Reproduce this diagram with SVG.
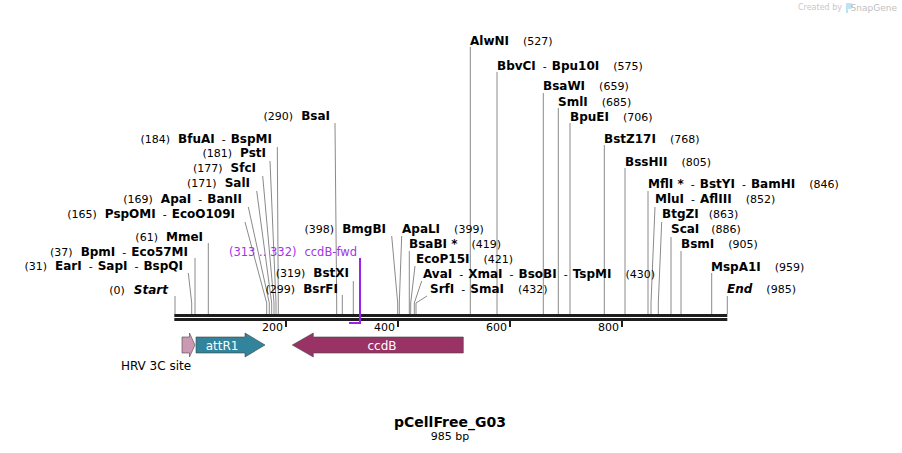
<svg xmlns="http://www.w3.org/2000/svg" width="902" height="453" viewBox="0 0 902 453">
<style>
text{font-family:"DejaVu Sans","Verdana",sans-serif;fill:#000}
.n{font-weight:bold;font-size:12px}
.i{font-style:italic}
.p{font-size:11px}
.h{font-size:11px}
.pr{fill:#a035e6}
.cut{fill:none;stroke:#8a8a8a;stroke-width:1}
.bb{fill:#1e1e1e}
.tk{fill:#1e1e1e}
.ft{stroke:#444;stroke-width:0.6}
.fl{fill:#fff;font-size:12px}
</style>
<rect width="902" height="453" fill="#fff"/>
<g id="watermark">
<text x="842" y="10" text-anchor="end" style="font-size:8px;fill:#c8c8c8">Created by</text>
<path d="M846,3 h4 a3,3 0 0 1 0,6 h-2 v4 h-2 z" fill="#bfe3f3"/>
<text x="897" y="10.5" text-anchor="end" style="font-size:9px;fill:#c0c0c0">SnapGene</text>
</g>
<g id="connectors">
<polyline class="cut" points="175,296 175,314"/>
<polyline class="cut" points="188.3,273 191.7,303 191.7,314"/>
<polyline class="cut" points="195,258 195,314"/>
<polyline class="cut" points="208.3,243 208.3,314"/>
<polyline class="cut" points="245,222 266.7,303 266.7,314"/>
<polyline class="cut" points="248.3,207 269.3,303 269.3,314"/>
<polyline class="cut" points="256.7,191 271.7,303 271.7,314"/>
<polyline class="cut" points="262.7,176 274,303 274,314"/>
<polyline class="cut" points="270,161 276,303 276,314"/>
<polyline class="cut" points="277.3,147 278.3,303 278.3,314"/>
<polyline class="cut" points="335,123 336.7,303 336.7,314"/>
<polyline class="cut" points="342.3,295 342.3,314"/>
<polyline class="cut" points="353.3,281 353.3,314"/>
<polyline class="cut" points="391.7,236 397.7,303 397.7,314"/>
<polyline class="cut" points="401.7,236 399.3,303 399.3,314"/>
<polyline class="cut" points="409.3,251 409.3,314"/>
<polyline class="cut" points="415,266 410.7,303 410.7,314"/>
<polyline class="cut" points="421.7,281 414.3,303 414.3,314"/>
<polyline class="cut" points="427,296 416,303 416,314"/>
<polyline class="cut" points="470.3,47 470.3,314"/>
<polyline class="cut" points="497,72 497,314"/>
<polyline class="cut" points="543.3,93 543.3,314"/>
<polyline class="cut" points="558.3,108 558.3,314"/>
<polyline class="cut" points="570,123 570,314"/>
<polyline class="cut" points="604.3,145 604.3,314"/>
<polyline class="cut" points="625,168 625,314"/>
<polyline class="cut" points="648,191 648,314"/>
<polyline class="cut" points="655,207 651,303 651,314"/>
<polyline class="cut" points="661.7,222 658.3,303 658.3,314"/>
<polyline class="cut" points="671,237 671,314"/>
<polyline class="cut" points="681,251 681,314"/>
<polyline class="cut" points="711.7,273 711.7,314"/>
<polyline class="cut" points="727.3,296 727.3,314"/>
</g>
<g id="backbone">
<rect class="bb" x="174.3" y="314" width="553" height="3"/>
<rect class="bb" x="174.3" y="318" width="553" height="3"/>
<rect class="tk" x="285" y="321" width="2" height="6"/>
<rect class="tk" x="397" y="321" width="2" height="6"/>
<rect class="tk" x="509" y="321" width="2" height="6"/>
<rect class="tk" x="621" y="321" width="2" height="6"/>
<text class="h" x="283" y="331" text-anchor="end">200</text>
<text class="h" x="395" y="331" text-anchor="end">400</text>
<text class="h" x="507" y="331" text-anchor="end">600</text>
<text class="h" x="619" y="331" text-anchor="end">800</text>
</g>
<g id="start"><text x="168" y="294" text-anchor="end"><tspan class="p">(0)</tspan><tspan class="n i" dx="9">Start</tspan></text></g>
<g id="EarI"><text x="183" y="270" text-anchor="end"><tspan class="p">(31)</tspan><tspan class="n" dx="8">EarI</tspan><tspan class="p" dx="7">-</tspan><tspan class="n" dx="5">SapI</tspan><tspan class="p" dx="7">-</tspan><tspan class="n" dx="5">BspQI</tspan></text></g>
<g id="BpmI"><text x="188" y="256" text-anchor="end"><tspan class="p">(37)</tspan><tspan class="n" dx="8">BpmI</tspan><tspan class="p" dx="7">-</tspan><tspan class="n" dx="5">Eco57MI</tspan></text></g>
<g id="MmeI"><text x="203" y="241" text-anchor="end"><tspan class="p">(61)</tspan><tspan class="n" dx="8">MmeI</tspan></text></g>
<g id="PspOMI"><text x="235" y="218" text-anchor="end"><tspan class="p">(165)</tspan><tspan class="n" dx="8">PspOMI</tspan><tspan class="p" dx="7">-</tspan><tspan class="n" dx="5">EcoO109I</tspan></text></g>
<g id="ApaI"><text x="242" y="203" text-anchor="end"><tspan class="p">(169)</tspan><tspan class="n" dx="8">ApaI</tspan><tspan class="p" dx="7">-</tspan><tspan class="n" dx="5">BanII</tspan></text></g>
<g id="SalI"><text x="250" y="187" text-anchor="end"><tspan class="p">(171)</tspan><tspan class="n" dx="8">SalI</tspan></text></g>
<g id="SfcI"><text x="256" y="172" text-anchor="end"><tspan class="p">(177)</tspan><tspan class="n" dx="8">SfcI</tspan></text></g>
<g id="PstI"><text x="266" y="157" text-anchor="end"><tspan class="p">(181)</tspan><tspan class="n" dx="8">PstI</tspan></text></g>
<g id="BfuAI"><text x="272" y="143" text-anchor="end"><tspan class="p">(184)</tspan><tspan class="n" dx="8">BfuAI</tspan><tspan class="p" dx="7">-</tspan><tspan class="n" dx="5">BspMI</tspan></text></g>
<g id="BsaI"><text x="330" y="120" text-anchor="end"><tspan class="p">(290)</tspan><tspan class="n" dx="8">BsaI</tspan></text></g>
<g id="ccdB-fwd">
<text class="pr" x="357" y="256" text-anchor="end" style="font-size:11.5px">(313 .. 332)<tspan dx="8">ccdB-fwd</tspan></text>
<path d="M360,258 V323 H349" fill="none" stroke="#9b22ea" stroke-width="2"/>
</g>
<g id="BstXI"><text x="349" y="277" text-anchor="end"><tspan class="p">(319)</tspan><tspan class="n" dx="8">BstXI</tspan></text></g>
<g id="BsrFI"><text x="338" y="293" text-anchor="end"><tspan class="p">(299)</tspan><tspan class="n" dx="8">BsrFI</tspan></text></g>
<g id="BmgBI"><text x="386" y="233" text-anchor="end"><tspan class="p">(398)</tspan><tspan class="n" dx="8">BmgBI</tspan></text></g>
<g id="ApaLI"><text x="402" y="233"><tspan class="n">ApaLI</tspan><tspan class="p" dx="14">(399)</tspan></text></g>
<g id="BsaBI"><text x="409" y="248"><tspan class="n">BsaBI *</tspan><tspan class="p" dx="14">(419)</tspan></text></g>
<g id="EcoP15I"><text x="416" y="263"><tspan class="n">EcoP15I</tspan><tspan class="p" dx="14">(421)</tspan></text></g>
<g id="AvaI"><text x="423" y="278"><tspan class="n">AvaI</tspan><tspan class="p" dx="7">-</tspan><tspan class="n" dx="5">XmaI</tspan><tspan class="p" dx="7">-</tspan><tspan class="n" dx="5">BsoBI</tspan><tspan class="p" dx="7">-</tspan><tspan class="n" dx="5">TspMI</tspan><tspan class="p" dx="14">(430)</tspan></text></g>
<g id="SrfI"><text x="430" y="293"><tspan class="n">SrfI</tspan><tspan class="p" dx="7">-</tspan><tspan class="n" dx="5">SmaI</tspan><tspan class="p" dx="14">(432)</tspan></text></g>
<g id="AlwNI"><text x="470" y="45"><tspan class="n">AlwNI</tspan><tspan class="p" dx="14">(527)</tspan></text></g>
<g id="BbvCI"><text x="497" y="70"><tspan class="n">BbvCI</tspan><tspan class="p" dx="7">-</tspan><tspan class="n" dx="5">Bpu10I</tspan><tspan class="p" dx="14">(575)</tspan></text></g>
<g id="BsaWI"><text x="543" y="90"><tspan class="n">BsaWI</tspan><tspan class="p" dx="14">(659)</tspan></text></g>
<g id="SmlI"><text x="558" y="105.5"><tspan class="n">SmlI</tspan><tspan class="p" dx="14">(685)</tspan></text></g>
<g id="BpuEI"><text x="570" y="120.5"><tspan class="n">BpuEI</tspan><tspan class="p" dx="14">(706)</tspan></text></g>
<g id="BstZ17I"><text x="604" y="142.5"><tspan class="n">BstZ17I</tspan><tspan class="p" dx="14">(768)</tspan></text></g>
<g id="BssHII"><text x="625" y="165.5"><tspan class="n">BssHII</tspan><tspan class="p" dx="14">(805)</tspan></text></g>
<g id="MflI"><text x="648" y="188"><tspan class="n">MflI *</tspan><tspan class="p" dx="7">-</tspan><tspan class="n" dx="5">BstYI</tspan><tspan class="p" dx="7">-</tspan><tspan class="n" dx="5">BamHI</tspan><tspan class="p" dx="14">(846)</tspan></text></g>
<g id="MluI"><text x="655" y="203"><tspan class="n">MluI</tspan><tspan class="p" dx="7">-</tspan><tspan class="n" dx="5">AflIII</tspan><tspan class="p" dx="14">(852)</tspan></text></g>
<g id="BtgZI"><text x="662" y="218"><tspan class="n">BtgZI</tspan><tspan class="p" dx="10">(863)</tspan></text></g>
<g id="ScaI"><text x="671" y="233"><tspan class="n">ScaI</tspan><tspan class="p" dx="12">(886)</tspan></text></g>
<g id="BsmI"><text x="681" y="248"><tspan class="n">BsmI</tspan><tspan class="p" dx="14">(905)</tspan></text></g>
<g id="MspA1I"><text x="711" y="270.5"><tspan class="n">MspA1I</tspan><tspan class="p" dx="14">(959)</tspan></text></g>
<g id="end"><text x="727" y="293"><tspan class="n i">End</tspan><tspan class="p" dx="14">(985)</tspan></text></g>
<g id="HRV3C">
<path class="ft" d="M182,337 H189.5 V333 L195,345 L189.5,357 V353 H182 Z" fill="#cc99b4"/>
<text x="156" y="370" text-anchor="middle" style="font-size:12px">HRV 3C site</text>
</g>
<g id="attR1">
<path class="ft" d="M196,337 H245 V333 L265,345 L245,357 V353 H196 Z" fill="#31849b"/>
<text class="fl" x="222" y="349.5" text-anchor="middle">attR1</text>
</g>
<g id="ccdB">
<path class="ft" d="M463.3,337 H313.3 V333 L292.3,345 L313.3,357 V353 H463.3 Z" fill="#993366"/>
<text class="fl" x="382" y="349.5" text-anchor="middle">ccdB</text>
</g>
<g id="title">
<text x="450" y="427" text-anchor="middle" style="font-size:14px;font-weight:bold">pCellFree_G03</text>
<text x="450" y="440" text-anchor="middle" style="font-size:11px">985 bp</text>
</g>
</svg>
